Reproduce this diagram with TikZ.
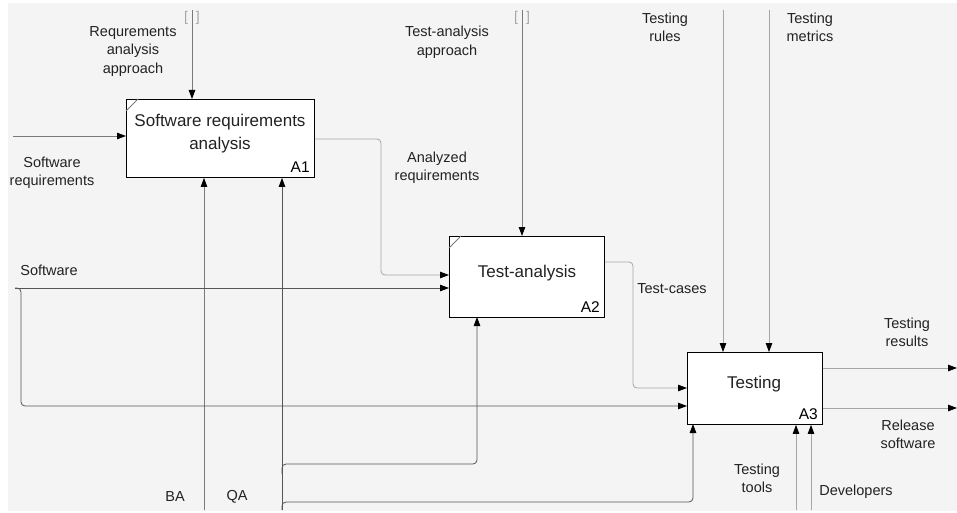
\documentclass[tikz,border=0pt]{standalone}
\usepackage{fontspec}
\setmainfont{Liberation Sans}
\usetikzlibrary{arrows.meta,calc}
\definecolor{bgc}{HTML}{F4F4F4}
\definecolor{lnA}{HTML}{7A7A7A}
\definecolor{lnB}{HTML}{555555}
\definecolor{lnC}{HTML}{A5A5A5}
\definecolor{txc}{HTML}{222222}
\tikzset{
  box/.style={draw=black, line width=0.9pt, fill=white, inner sep=0pt},
  lbl/.style={font=\fontsize{14.5}{18.5}\selectfont, align=center, text=txc, inner sep=0pt},
  boxtxt/.style={font=\fontsize{17}{23}\selectfont, align=center, text=txc, inner sep=0pt},
  numtxt/.style={font=\fontsize{15.5}{16}\selectfont, text=black, inner sep=0pt, anchor=base east},
  brk/.style={font=\fontsize{14}{14}\selectfont, text=lnC, inner sep=0pt},
  conn/.style={draw=lnA, line width=0.8pt, rounded corners=4pt, -{Triangle[length=9pt,width=6.5pt,color=black]}},
  notch/.style={draw=lnA, line width=0.8pt}
}
\begin{document}
\begin{tikzpicture}[x=1pt,y=-1pt]
\useasboundingbox (0,0) rectangle (957,513);
\fill[bgc] (8,3) rectangle (957,511);

% boxes
\node[box, minimum width=188pt, minimum height=78pt, anchor=north west] (A1) at (126,99) {};
\node[box, minimum width=155pt, minimum height=81pt, anchor=north west] (A2) at (449,236) {};
\node[box, minimum width=135pt, minimum height=72pt, anchor=north west] (A3) at (687,352) {};
\draw[notch] ($(A1.north west)+(0,12)$) -- ($(A1.north west)+(12,0)$);
\draw[notch] ($(A2.north west)+(0,12)$) -- ($(A2.north west)+(12,0)$);

\node[boxtxt] (t1) at (220,133.5) {Software requirements\\analysis};
\node[boxtxt] (t2) at (527,273) {Test-analysis};
\node[boxtxt] (t3) at (754,384) {Testing};
\node[numtxt] (n1) at ($(A1.south east)+(-5,-5)$) {A1};
\node[numtxt] (n2) at ($(A2.south east)+(-5,-5)$) {A2};
\node[numtxt] (n3) at ($(A3.south east)+(-5,-5)$) {A3};

% free ends
\coordinate (inSR) at (13,136);
\coordinate (c1) at (192,10);
\coordinate (ba) at (204,510);
\coordinate (qa) at (282,510);
\coordinate (sw) at (15,288);
\coordinate (c2) at (522,10);
\coordinate (c3a) at (723,10);
\coordinate (c3b) at (769,10);
\coordinate (m3a) at (796,510);
\coordinate (m3b) at (811,510);
\coordinate (outR) at (957,368);
\coordinate (outS) at (957,408);

% tunnel brackets
\node[brk] (b1) at (192,18) {[\hspace{8pt}]};
\node[brk] (b2) at (522,18) {[\hspace{8pt}]};

% connectors
\draw[conn] (inSR) -- (inSR -| A1.west);
\draw[conn] (c1) -- (c1 |- A1.north);
\draw[conn] (ba) -- (ba |- A1.south);
\draw[conn, draw=lnB] (qa) -- (qa |- A1.south);
\draw[conn, draw=lnC] ($(A1.north east)+(0,40)$) -- (381,139) -- (381,275) -- ($(A2.north west)+(0,39)$);
\draw[conn, draw=lnB] (sw) -- ($(A2.north west)+(0,52)$);
\draw[conn, draw=lnB] (sw) -- (21,288) -- (21,406) -- ($(A3.north west)+(0,54)$);
\draw[conn] (c2) -- (c2 |- A2.north);
\draw[conn, draw=lnB] (282,474) -- (282,464) -- (477,464) -- (477,317);
\draw[conn, draw=lnB] (282,510) -- (282,502) -- (693,502) -- (693,424);
\draw[conn, draw=lnC] ($(A2.north east)+(0,26)$) -- (633,262) -- (633,388) -- ($(A3.north west)+(0,36)$);
\draw[conn, draw=lnC] (c3a) -- (c3a |- A3.north);
\draw[conn, draw=lnC] (c3b) -- (c3b |- A3.north);
\draw[conn, draw=lnC] (m3a) -- (m3a |- A3.south);
\draw[conn, draw=lnC] (m3b) -- (m3b |- A3.south);
\draw[conn, draw=lnC] ($(A3.north east)+(0,16)$) -- (outR);
\draw[conn, draw=lnC] ($(A3.north east)+(0,56)$) -- (outS);

% labels
\node[lbl] (l1) at (133,51.5) {Requrements\\analysis\\approach};
\node[lbl] (l2) at (52,173) {Software\\requirements};
\node[lbl] (l3) at (447,42.5) {Test-analysis\\approach};
\node[lbl] (l4) at (437,168) {Analyzed\\requirements};
\node[lbl] (l5) at (49,270) {Software};
\node[lbl] (l6) at (672,289) {Test-cases};
\node[lbl] (l7) at (665,27.5) {Testing\\rules};
\node[lbl] (l8) at (810,27.5) {Testing\\metrics};
\node[lbl] (l9) at (907,332.5) {Testing\\results};
\node[lbl] (l10) at (908,434.5) {Release\\software};
\node[lbl] (l11) at (757,478.5) {Testing\\tools};
\node[lbl] (l12) at (856,492) {Developers};
\node[lbl] (l13) at (175,497) {BA};
\node[lbl] (l14) at (237,497) {QA};
\end{tikzpicture}
\end{document}
